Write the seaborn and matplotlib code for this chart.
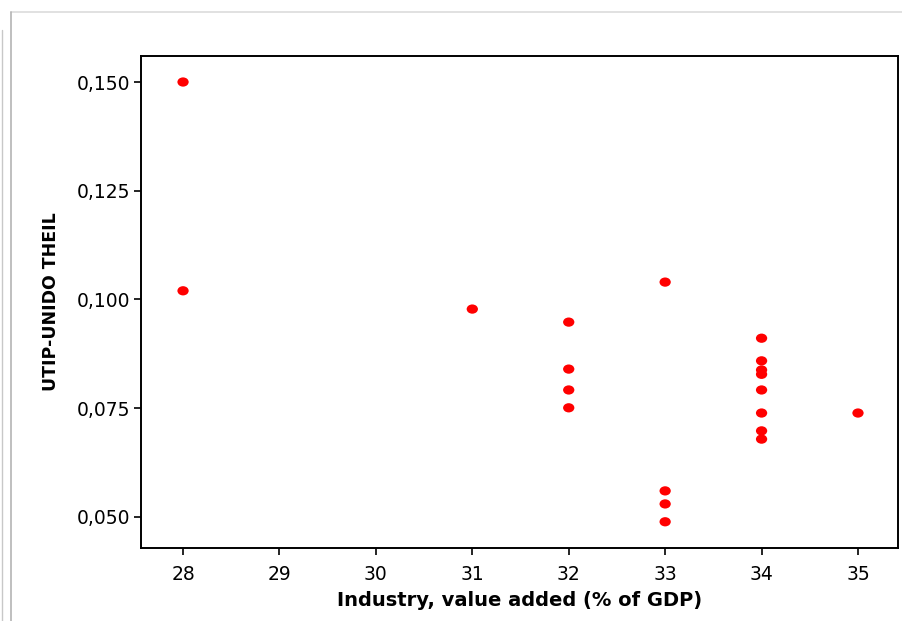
import numpy as np
import pandas as pd
import matplotlib
matplotlib.use("Agg")
import matplotlib.pyplot as plt
from matplotlib.path import Path
from matplotlib.lines import Line2D
from matplotlib.ticker import FixedLocator, FuncFormatter
import seaborn as sns

# Industry share of GDP (%) and the UTIP-UNIDO Theil inequality index
industry = [28, 28, 31, 32, 32, 32, 32, 33, 33, 33, 33,
            34, 34, 34, 34, 34, 34, 34, 34, 35]
theil = [0.150, 0.102, 0.0978, 0.0948, 0.0840, 0.0792, 0.0751,
         0.1040, 0.0560, 0.0530, 0.0489,
         0.0911, 0.0859, 0.0838, 0.0828, 0.0792, 0.0739, 0.0698, 0.0679,
         0.0739]

x_ticks = [28, 29, 30, 31, 32, 33, 34, 35]
y_ticks = [0.050, 0.075, 0.100, 0.125, 0.150]

df = pd.DataFrame({"industry": industry, "theil": theil})

sns.set_theme(style="white")
plt.rcParams["font.family"] = ["DejaVu Sans"]

W, H = 903, 621
fig = plt.figure(figsize=(W / 100, H / 100), dpi=100)
ax = fig.add_axes([141 / W, 1 - 548 / H, (898 - 141) / W, (548 - 56) / H])

# slightly wide oval marker
circ = Path.unit_circle()
oval = Path(circ.vertices * np.array([1.0, 0.82]), circ.codes)

sns.scatterplot(data=df, x="industry", y="theil", ax=ax, marker=oval,
                s=66, color="#ff0000", edgecolor="none", linewidth=0)

ax.set_xlim(27.564, 35.415)
ax.set_ylim(0.04287, 0.15598)
ax.xaxis.set_major_locator(FixedLocator(x_ticks))
ax.yaxis.set_major_locator(FixedLocator(y_ticks))
ax.xaxis.set_major_formatter(FuncFormatter(lambda v, p: f"{v:.0f}"))
ax.yaxis.set_major_formatter(FuncFormatter(lambda v, p: f"{v:.3f}".replace(".", ",")))

ax.tick_params(axis="both", which="major", direction="out", length=5,
               width=1.2, color="black", labelsize=13.5, labelcolor="black",
               bottom=True, left=True, top=False, right=False)
ax.tick_params(axis="x", pad=7)
ax.tick_params(axis="y", pad=3)

for side in ["left", "bottom", "top", "right"]:
    ax.spines[side].set_visible(True)
    ax.spines[side].set_color("black")
    ax.spines[side].set_linewidth(1.4)

ax.set_xlabel("Industry, value added (% of GDP)", fontsize=14,
              fontweight="bold", color="black", labelpad=5)
ax.set_ylabel("UTIP-UNIDO THEIL", fontsize=12.5, fontweight="bold",
              color="black", labelpad=11.5)
ax.grid(False)

# window frame lines around the plot panel
fig.add_artist(Line2D([11 / W, 1], [1 - 12 / H, 1 - 12 / H],
                      transform=fig.transFigure, color="#dcdcdc", lw=1.2))
fig.add_artist(Line2D([11 / W, 11 / W], [0, 1 - 12 / H],
                      transform=fig.transFigure, color="#b4b4b4", lw=1.2))
fig.add_artist(Line2D([2 / W, 2 / W], [0, 1 - 30 / H],
                      transform=fig.transFigure, color="#c8c8c8", lw=1.0))

fig.savefig("out.png", dpi=100, facecolor="white")
